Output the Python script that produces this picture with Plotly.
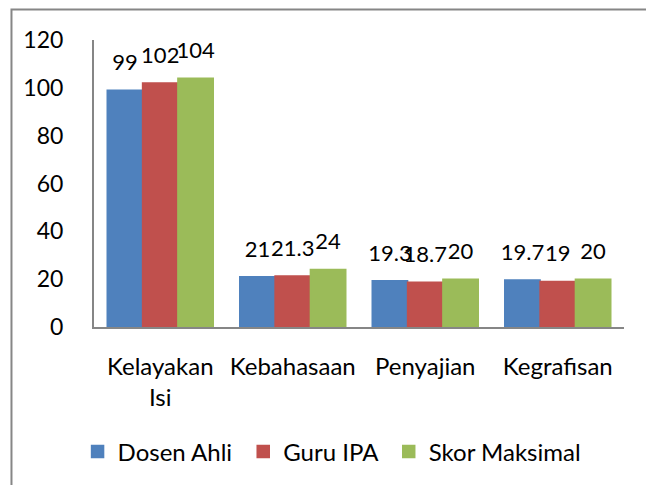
import plotly.graph_objects as go

categories = ["Kelayakan<br>Isi", "Kebahasaan", "Penyajian", "Kegrafisan"]
series_names = ["Dosen Ahli", "Guru IPA", "Skor Maksimal"]
dosen_ahli = [99, 21, 19.3, 19.7]
guru_ipa = [102, 21.3, 18.7, 19]
skor_maksimal = [104, 24, 20, 20]
y_ticks = [0, 20, 40, 60, 80, 100, 120]

colors = ["#4F81BD", "#C0504D", "#9BBB59"]
FONT = "Lato"
series_values = [dosen_ahli, guru_ipa, skor_maksimal]

fig = go.Figure()
for i, (name, vals) in enumerate(zip(series_names, series_values)):
    fig.add_trace(go.Bar(
        x=categories, y=vals, name=name + "\u00a0",
        marker=dict(color=colors[i], line=dict(width=1.5, color=colors[i])),
        offsetgroup=str(i), hoverinfo="skip",
    ))
for i, (name, vals) in enumerate(zip(series_names, series_values)):
    fig.add_trace(go.Scatter(
        x=categories, y=vals, mode="markers+text",
        text=[f"{v:g}" for v in vals], textposition="top center",
        textfont=dict(family=FONT, size=22, color="#000000"),
        marker=dict(size=22, color="rgba(0,0,0,0)"),
        offsetgroup=str(i), showlegend=False, hoverinfo="skip",
        cliponaxis=False,
    ))

fig.update_layout(
    width=646, height=485,
    margin=dict(l=94, r=22, t=40, b=157),
    paper_bgcolor="white", plot_bgcolor="white",
    barmode="group", scattermode="group", bargap=0.2, bargroupgap=0,
    font=dict(family=FONT, size=23, color="#000000"),
    showlegend=True,
    legend=dict(orientation="h", x=-0.031, xanchor="left", y=-0.43, yanchor="middle",
                font=dict(family=FONT, size=24), bgcolor="rgba(0,0,0,0)"),
    shapes=[dict(type="rect", xref="paper", yref="paper",
                 x0=-0.1557, x1=1.1, y0=-0.6, y1=1.106,
                 line=dict(color="#868686", width=2), fillcolor="rgba(0,0,0,0)", layer="below")],
)
fig.update_yaxes(range=[0, 120], tickvals=y_ticks, showgrid=False, zeroline=False,
                 showline=True, linecolor="#868686", linewidth=2, ticks="",
                 ticklabelstandoff=24, tickfont=dict(family=FONT, size=23))
fig.update_xaxes(showgrid=False, showline=True, linecolor="#868686", linewidth=2,
                 ticks="", ticklabelstandoff=17, tickfont=dict(family=FONT, size=24))

fig.write_html("out.html", config={"displayModeBar": False},
               post_script="document.body.style.margin='0';document.body.style.overflow='hidden';")
